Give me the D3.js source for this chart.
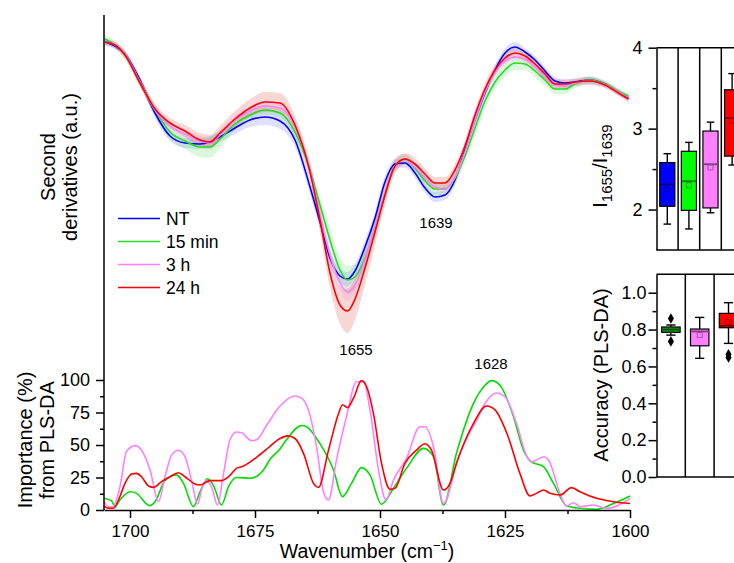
<!DOCTYPE html>
<html>
<head>
<meta charset="utf-8">
<script src="https://d3js.org/d3.v7.min.js"></script>
<style>
body { margin: 0; background: #fff; }
text { font-family: "Liberation Sans", Arial, sans-serif; fill: #000; }
</style>
</head>
<body>
<div id="chart"></div>
<script>
// second derivative spectra (a.u.), mean and sd on a common wavenumber grid
var specWn = [1705, 1703, 1701, 1698, 1695, 1692, 1689, 1686, 1684, 1682, 1679, 1676, 1673, 1670, 1667, 1664,
    1662, 1660, 1658, 1656.5, 1655, 1653, 1651, 1649, 1647, 1645, 1643, 1641, 1639, 1637, 1635, 1633,
    1631, 1629, 1627, 1625, 1623, 1621, 1619, 1617, 1615, 1613, 1611, 1608, 1605, 1602, 1600.3];
var specNT = [-0.02, -0.06, -0.14, -0.40, -0.73, -0.96, -1.03, -1.04, -1.02, -0.97, -0.88, -0.80, -0.77, -0.81, -1.00, -1.47,
    -1.82, -2.18, -2.36, -2.39, -2.31, -2.07, -1.78, -1.42, -1.24, -1.23, -1.33, -1.48, -1.57, -1.55, -1.40, -1.10,
    -0.80, -0.53, -0.30, -0.13, -0.07, -0.12, -0.20, -0.31, -0.41, -0.43, -0.42, -0.40, -0.44, -0.53, -0.58];
var spec15min = [0.01, -0.05, -0.15, -0.42, -0.70, -0.92, -1.01, -1.07, -1.07, -0.99, -0.84, -0.75, -0.70, -0.73, -0.92, -1.30,
    -1.65, -2.00, -2.30, -2.40, -2.37, -2.18, -1.88, -1.55, -1.26, -1.19, -1.28, -1.41, -1.49, -1.49, -1.38, -1.16,
    -0.88, -0.61, -0.42, -0.30, -0.23, -0.24, -0.31, -0.40, -0.49, -0.49, -0.44, -0.40, -0.44, -0.52, -0.56];
var spec3h = [-0.02, -0.05, -0.14, -0.42, -0.70, -0.86, -0.94, -1.01, -1.03, -0.95, -0.80, -0.71, -0.66, -0.68, -0.87, -1.30,
    -1.75, -2.15, -2.43, -2.52, -2.45, -2.20, -1.88, -1.53, -1.26, -1.19, -1.27, -1.38, -1.47, -1.49, -1.37, -1.12,
    -0.80, -0.52, -0.32, -0.21, -0.17, -0.19, -0.27, -0.37, -0.45, -0.46, -0.43, -0.41, -0.45, -0.53, -0.58];
var spec24h = [-0.02, -0.05, -0.15, -0.43, -0.69, -0.83, -0.91, -1.00, -1.02, -0.93, -0.79, -0.68, -0.62, -0.63, -0.85, -1.32,
    -1.80, -2.33, -2.65, -2.71, -2.59, -2.28, -1.92, -1.55, -1.26, -1.19, -1.24, -1.34, -1.43, -1.43, -1.30, -1.06,
    -0.75, -0.49, -0.30, -0.18, -0.13, -0.16, -0.24, -0.34, -0.44, -0.44, -0.42, -0.41, -0.45, -0.54, -0.59];
var sdNT = [0.03, 0.03, 0.03, 0.04, 0.05, 0.05, 0.05, 0.05, 0.05, 0.05, 0.06, 0.07, 0.08, 0.08, 0.07, 0.07,
    0.07, 0.07, 0.07, 0.07, 0.07, 0.07, 0.06, 0.06, 0.05, 0.05, 0.05, 0.05, 0.05, 0.05, 0.05, 0.05,
    0.05, 0.05, 0.05, 0.05, 0.05, 0.04, 0.04, 0.04, 0.04, 0.04, 0.03, 0.03, 0.03, 0.03, 0.03];
var sd15min = [0.04, 0.04, 0.04, 0.05, 0.06, 0.07, 0.08, 0.10, 0.11, 0.09, 0.06, 0.05, 0.05, 0.05, 0.05, 0.06,
    0.08, 0.11, 0.13, 0.14, 0.13, 0.11, 0.09, 0.07, 0.06, 0.05, 0.05, 0.05, 0.06, 0.06, 0.06, 0.07,
    0.07, 0.07, 0.07, 0.07, 0.07, 0.06, 0.06, 0.06, 0.05, 0.05, 0.04, 0.04, 0.03, 0.03, 0.03];
var sd3h = [0.03, 0.03, 0.03, 0.04, 0.04, 0.04, 0.05, 0.05, 0.05, 0.05, 0.05, 0.05, 0.05, 0.05, 0.05, 0.05,
    0.06, 0.07, 0.08, 0.09, 0.08, 0.07, 0.06, 0.05, 0.05, 0.04, 0.04, 0.04, 0.04, 0.04, 0.04, 0.04,
    0.04, 0.04, 0.04, 0.04, 0.04, 0.04, 0.04, 0.04, 0.03, 0.03, 0.03, 0.03, 0.03, 0.03, 0.03];
var sd24h = [0.03, 0.03, 0.04, 0.04, 0.05, 0.05, 0.06, 0.07, 0.07, 0.07, 0.08, 0.09, 0.10, 0.10, 0.09, 0.09,
    0.11, 0.15, 0.19, 0.22, 0.21, 0.17, 0.13, 0.10, 0.07, 0.06, 0.06, 0.06, 0.06, 0.06, 0.06, 0.06,
    0.06, 0.06, 0.05, 0.05, 0.05, 0.05, 0.05, 0.05, 0.05, 0.04, 0.04, 0.04, 0.03, 0.03, 0.03];

var groupNames = ["NT", "15 min", "3 h", "24 h"];
var lineColors = ["#0000ff", "#22dd22", "#ff80ff", "#ff0000"];
var bandColors = ["#6f6fff", "#55e055", "#ff9cff", "#e04a4a"];

// importance (%) from PLS-DA
var impGreenWn = [1705.2, 1703.7, 1703, 1702, 1700, 1698.7, 1696.1, 1695, 1693, 1690.7, 1689.3, 1687.3, 1686, 1684.5,
    1683.3, 1681.7, 1680.3, 1678.7, 1676, 1673.3, 1672, 1670, 1668.7, 1665.7, 1664.7, 1662, 1659.3, 1657.5,
    1655.7, 1653.7, 1652, 1649.7, 1647.3, 1644.7, 1641.3, 1639.3, 1637.3, 1634.7, 1631.3, 1629, 1627.7, 1626,
    1623.3, 1621.3, 1619.7, 1617.3, 1615.3, 1612.7, 1610, 1606.7, 1603.3, 1600];
var impGreen = [9, 7, 2.5, 7.7, 14, 12.8, 3.3, 6.4, 22.6, 27, 20.5, 2.6, 14, 24,
    19, 3.8, 18, 25, 24.4, 30.8, 39, 47, 54, 65, 64, 51, 30.8, 10.3,
    20.5, 32.6, 27, 4.4, 16.7, 32, 47.4, 41, 3.8, 43.6, 82, 96, 99.5, 96,
    71.8, 46, 37, 33.3, 20.5, 3.3, 1.3, 0.5, 5, 10.8];
var impPinkWn = [1705.2, 1704.3, 1703.5, 1702, 1700.7, 1699, 1697.7, 1696, 1694.3, 1693, 1691.7, 1690.3, 1689, 1687.7,
    1686.5, 1685.6, 1684.8, 1683.7, 1682.5, 1681.3, 1680, 1678.7, 1677.7, 1675.7, 1674.7, 1672.7, 1670, 1667,
    1665.7, 1664, 1662.7, 1661.3, 1660.3, 1658.7, 1656.7, 1654.7, 1653.3, 1652, 1650.3, 1648.8, 1647.3, 1644.7,
    1642, 1641, 1639.3, 1637.3, 1634.3, 1632.7, 1630.7, 1629, 1626.7, 1625, 1622.7, 1620.7, 1619.7, 1617.3,
    1616.3, 1614, 1612.7, 1611.3, 1610, 1607.3, 1604.7, 1600];
var impPink = [6.4, 2.5, 2.5, 18, 45, 49.5, 46, 31, 6.4, 25.6, 42, 46, 41, 23,
    4.6, 16.7, 22.6, 18, 3.8, 28, 54, 60, 59.5, 53.3, 54, 65, 80, 87.7,
    86, 73, 48.7, 14, 7.7, 38.5, 71.8, 98.7, 98.7, 77, 30.8, 7.7, 23, 39.7,
    64, 64, 48.7, 5, 41, 55, 69, 82, 90, 87, 66.7, 42, 37, 41,
    38.5, 12.8, 3, 5.6, 2.6, 3.8, 1.3, 9];
var impRedWn = [1705.2, 1704.3, 1703.3, 1702.3, 1701, 1699.7, 1698.7, 1697.7, 1696.3, 1695.3, 1693.7, 1692, 1690.3, 1689,
    1687, 1686, 1684, 1681.7, 1680.3, 1678.7, 1677.3, 1674.7, 1672, 1670, 1668.5, 1667, 1665.3, 1663.3,
    1662.3, 1660.3, 1658.3, 1657.5, 1656.5, 1655.3, 1653.7, 1652.7, 1651.3, 1649.7, 1648, 1647, 1645, 1642.7,
    1641, 1639.7, 1637.3, 1636, 1634.7, 1631.3, 1628.7, 1627, 1624.5, 1622, 1620, 1618.7, 1617.3, 1616,
    1614, 1611.7, 1610, 1606.7, 1603.3, 1600];
var impRed = [3, 1.3, 1.3, 7.7, 20.5, 27.7, 28.2, 25.6, 18.5, 17.4, 21.8, 25.6, 28.7, 25.6,
    20, 19.2, 22.6, 22.6, 25.6, 32, 33.8, 40.5, 49, 55, 57, 55, 43.6, 20.5,
    17.4, 46, 74, 81, 78.7, 86, 99.5, 95, 74, 36, 16, 16.7, 36, 46,
    51, 46, 15.4, 20.5, 36, 66.7, 80, 77, 57.7, 28, 10.8, 12.8, 15.4, 12.8,
    11.5, 17.2, 14, 9, 6.4, 5];

// I1655/I1639 box statistics
var ratioGroups = ["NT", "15 min", "3 h", "24 h"];
var ratioColors = ["#0000ff", "#00ff00", "#ff80ff", "#ff0000"];
var ratioLow = [1.82, 1.76, 1.96, 2.55];
var ratioQ1 = [2.04, 1.99, 2.02, 2.66];
var ratioMedian = [2.31, 2.35, 2.56, 3.13];
var ratioMean = [2.25, 2.30, 2.52, 3.10];
var ratioQ3 = [2.58, 2.72, 2.97, 3.48];
var ratioHigh = [2.69, 2.83, 3.08, 3.68];

// PLS-DA accuracy box statistics
var accGroups = ["15 min", "3 h", "24 h"];
var accColors = ["#1f9f1f", "#ff80ff", "#ff0000"];
var accLow = [0.77, 0.644, 0.725];
var accQ1 = [0.785, 0.712, 0.81];
var accMedian = [0.80, 0.79, 0.82];
var accMean = [0.80, 0.77, 0.84];
var accQ3 = [0.814, 0.803, 0.888];
var accHigh = [0.825, 0.866, 0.946];
var accOutliers = [[0.86, 0.736], [], [0.666, 0.648]];

var width = 734;
var height = 563;

var svg = d3.select("#chart")
    .append("svg")
    .attr("width", width)
    .attr("height", height);

var x = d3.scaleLinear().domain([1705.2, 1600]).range([104, 630]);
var ySpec = d3.scaleLinear().domain([-2.7, 0]).range([310, 40]);
var yImp = d3.scaleLinear().domain([0, 100]).range([510, 380]);

// bands then lines
var specSeries = [specNT, spec15min, spec3h, spec24h];
var sdSeries = [sdNT, sd15min, sd3h, sd24h];

var area = d3.area()
    .x(function(d) { return x(d.wn); })
    .y0(function(d) { return ySpec(d.v - d.sd); })
    .y1(function(d) { return ySpec(d.v + d.sd); })
    .curve(d3.curveMonotoneX);
var line = d3.line()
    .x(function(d) { return x(d.wn); })
    .y(function(d) { return ySpec(d.v); })
    .curve(d3.curveMonotoneX);

var specData = specSeries.map(function(s, k) {
    return specWn.map(function(w, i) { return {wn: w, v: s[i], sd: sdSeries[k][i]}; });
});

svg.append("g").selectAll("path")
    .data(specData)
    .enter().append("path")
    .attr("d", area)
    .attr("fill", function(d, i) { return bandColors[i]; })
    .attr("fill-opacity", 0.22)
    .attr("stroke", "none");

svg.append("g").selectAll("path")
    .data(specData)
    .enter().append("path")
    .attr("d", line)
    .attr("fill", "none")
    .attr("stroke", function(d, i) { return lineColors[i]; })
    .attr("stroke-width", 1.6);

// legend
var legend = svg.append("g").selectAll("g")
    .data(groupNames)
    .enter().append("g")
    .attr("transform", function(d, i) { return "translate(118," + (218.5 + i * 23) + ")"; });
legend.append("line")
    .attr("x1", 0).attr("x2", 42)
    .attr("stroke", function(d, i) { return lineColors[i]; })
    .attr("stroke-width", 1.6);
legend.append("text")
    .attr("x", 48)
    .attr("dy", "0.35em")
    .style("font-size", "17.5px")
    .text(function(d) { return d; });

// importance curves
var impLine = d3.line()
    .x(function(d) { return x(d[0]); })
    .y(function(d) { return yImp(d[1]); })
    .curve(d3.curveMonotoneX);
var impData = [
    {c: "#00dd00", pts: d3.zip(impGreenWn, impGreen)},
    {c: "#ff80ff", pts: d3.zip(impPinkWn, impPink)},
    {c: "#ff0000", pts: d3.zip(impRedWn, impRed)}
];
svg.append("g").selectAll("path")
    .data(impData)
    .enter().append("path")
    .attr("d", function(d) { return impLine(d.pts); })
    .attr("fill", "none")
    .attr("stroke", function(d) { return d.c; })
    .attr("stroke-width", 1.6);

// axes of the left column
svg.append("line")
    .attr("x1", 104).attr("x2", 104)
    .attr("y1", 15).attr("y2", 510)
    .attr("stroke", "#000").attr("stroke-width", 1.5);

svg.append("g")
    .attr("class", "xaxis")
    .attr("transform", "translate(0,510)")
    .call(d3.axisBottom(x).tickValues([1700, 1675, 1650, 1625, 1600]).tickSize(8).tickSizeOuter(0).tickPadding(7)
        .tickFormat(d3.format("d")));
svg.append("g")
    .attr("transform", "translate(0,510)")
    .call(d3.axisBottom(x).tickValues([1687.5, 1662.5, 1637.5, 1612.5]).tickSize(4).tickFormat(""))
    .select(".domain").remove();

var yAxis = svg.append("g")
    .attr("transform", "translate(104,0)")
    .call(d3.axisLeft(yImp).tickValues([0, 25, 50, 75, 100]).tickSize(8).tickPadding(6));
yAxis.select(".domain").remove();
svg.append("g")
    .attr("transform", "translate(104,0)")
    .call(d3.axisLeft(yImp).tickValues([12.5, 37.5, 62.5, 87.5]).tickSize(4).tickFormat(""))
    .select(".domain").remove();

// peak labels
var peaks = [[1655, 355, "1655"], [1639, 228, "1639"], [1628, 369, "1628"]];
svg.append("g").selectAll("text")
    .data(peaks)
    .enter().append("text")
    .attr("x", function(d) { return x(d[0]) + 1; })
    .attr("y", function(d) { return d[1]; })
    .attr("text-anchor", "middle")
    .style("font-size", "15px")
    .text(function(d) { return d[2]; });

// axis titles
function vtitle(tx, ty, lines, size) {
    var t = svg.append("text")
        .attr("transform", "translate(" + tx + "," + ty + ") rotate(-90)")
        .attr("text-anchor", "middle")
        .style("font-size", size + "px");
    lines.forEach(function(s, i) {
        t.append("tspan").attr("x", 0).attr("y", i * 22).text(s);
    });
    return t;
}
vtitle(55, 167, ["Second", "derivatives (a.u.)"], 20);
vtitle(32, 440, ["Importance (%)", "from PLS-DA"], 20);

var xt = svg.append("text")
    .attr("x", 367).attr("y", 558)
    .attr("text-anchor", "middle")
    .style("font-size", "19.5px");
xt.append("tspan").text("Wavenumber (cm");
xt.append("tspan").attr("dy", -8).style("font-size", "13px").text("\u22121");
xt.append("tspan").attr("dy", 8).text(")");

// box plots on the right
function drawBoxes(g, xb, yb, st, colors, frac) {
    var bw = xb.bandwidth() * frac;
    var items = g.selectAll("g.box")
        .data(st)
        .enter().append("g")
        .attr("class", "box")
        .attr("transform", function(d) { return "translate(" + (xb(d.name) + xb.bandwidth() / 2) + ",0)"; });
    items.append("line")
        .attr("y1", function(d) { return yb(d.low); })
        .attr("y2", function(d) { return yb(d.high); })
        .attr("stroke", "#000").attr("stroke-width", 1.4);
    items.selectAll("line.cap")
        .data(function(d) { return [d.low, d.high]; })
        .enter().append("line")
        .attr("class", "cap")
        .attr("x1", -bw / 4).attr("x2", bw / 4)
        .attr("y1", function(v) { return yb(v); })
        .attr("y2", function(v) { return yb(v); })
        .attr("stroke", "#000").attr("stroke-width", 1.4);
    items.append("rect")
        .attr("x", -bw / 2).attr("width", bw)
        .attr("y", function(d) { return yb(d.q3); })
        .attr("height", function(d) { return yb(d.q1) - yb(d.q3); })
        .attr("fill", function(d, i) { return colors[i]; })
        .attr("stroke", "#000").attr("stroke-width", 1.2);
    items.append("line")
        .attr("x1", -bw / 2).attr("x2", bw / 2)
        .attr("y1", function(d) { return yb(d.median); })
        .attr("y2", function(d) { return yb(d.median); })
        .attr("stroke", function(d, i) { return d3.color(colors[i]).darker(2); })
        .attr("stroke-width", 1.8);
    items.append("rect")
        .attr("x", -2.5).attr("width", 5)
        .attr("y", function(d) { return yb(d.mean) - 2.5; })
        .attr("height", 5)
        .attr("fill", "none")
        .attr("stroke", function(d, i) { return d3.color(colors[i]).darker(1.5); })
        .attr("stroke-width", 0.8);
    items.selectAll("path.out")
        .data(function(d) { return d.out; })
        .enter().append("path")
        .attr("class", "out")
        .attr("d", d3.symbol().type(d3.symbolDiamond).size(32))
        .attr("transform", function(v) { return "translate(0," + yb(v) + ")"; })
        .attr("fill", "#000");
}

function frame(g, xb, yb, groups) {
    var y0 = yb.range()[0], y1 = yb.range()[1];
    g.append("line").attr("x1", xb.range()[0]).attr("x2", width + 10)
        .attr("y1", y1).attr("y2", y1).attr("stroke", "#000").attr("stroke-width", 1.5);
    g.append("line").attr("x1", xb.range()[0]).attr("x2", width + 10)
        .attr("y1", y0).attr("y2", y0).attr("stroke", "#000").attr("stroke-width", 1.5);
    g.selectAll("line.sep")
        .data(groups.slice(1))
        .enter().append("line")
        .attr("class", "sep")
        .attr("x1", function(d) { return xb(d); })
        .attr("x2", function(d) { return xb(d); })
        .attr("y1", y0).attr("y2", y1)
        .attr("stroke", "#000").attr("stroke-width", 1.5);
}

var axX = 656.5;

var yRatio = d3.scaleLinear().domain([1.5, 4]).range([250, 47.7]);
var xRatio = d3.scaleBand().domain(ratioGroups).range([axX, axX + 4 * 21.6]);
var gr = svg.append("g");
frame(gr, xRatio, yRatio, ratioGroups);
drawBoxes(gr, xRatio, yRatio, ratioGroups.map(function(n, i) {
    return {name: n, low: ratioLow[i], q1: ratioQ1[i], median: ratioMedian[i], mean: ratioMean[i],
        q3: ratioQ3[i], high: ratioHigh[i], out: []};
}), ratioColors, 0.7);
gr.append("g")
    .attr("transform", "translate(" + axX + ",0)")
    .call(d3.axisLeft(yRatio).tickValues([2, 3, 4]).tickSize(8).tickSizeOuter(0).tickPadding(6)
        .tickFormat(d3.format("d")));
gr.append("g")
    .attr("transform", "translate(" + axX + ",0)")
    .call(d3.axisLeft(yRatio).tickValues([2.5, 3.5]).tickSize(4).tickFormat(""))
    .select(".domain").remove();

var rt = svg.append("text")
    .attr("transform", "translate(607,166) rotate(-90)")
    .attr("text-anchor", "middle")
    .style("font-size", "20px");
rt.append("tspan").text("I");
rt.append("tspan").attr("dy", 5).style("font-size", "15px").text("1655");
rt.append("tspan").attr("dy", -5).text("/I");
rt.append("tspan").attr("dy", 5).style("font-size", "15px").text("1639");

var yAcc = d3.scaleLinear().domain([0, 1.1]).range([477, 274.3]);
var xAcc = d3.scaleBand().domain(accGroups).range([axX, axX + 3 * 28.8]);
var ga = svg.append("g");
frame(ga, xAcc, yAcc, accGroups);
drawBoxes(ga, xAcc, yAcc, accGroups.map(function(n, i) {
    return {name: n, low: accLow[i], q1: accQ1[i], median: accMedian[i], mean: accMean[i],
        q3: accQ3[i], high: accHigh[i], out: accOutliers[i]};
}), accColors, 0.64);
ga.append("g")
    .attr("transform", "translate(" + axX + ",0)")
    .call(d3.axisLeft(yAcc).tickValues([0, 0.2, 0.4, 0.6, 0.8, 1.0]).tickSize(8).tickSizeOuter(0).tickPadding(2)
        .tickFormat(d3.format(".1f")));
ga.append("g")
    .attr("transform", "translate(" + axX + ",0)")
    .call(d3.axisLeft(yAcc).tickValues([0.1, 0.3, 0.5, 0.7, 0.9]).tickSize(4).tickFormat(""))
    .select(".domain").remove();

svg.append("text")
    .attr("transform", "translate(608,375) rotate(-90)")
    .attr("text-anchor", "middle")
    .style("font-size", "20px")
    .text("Accuracy (PLS-DA)");

svg.selectAll(".tick text").style("font-size", "18px").attr("fill", "#000");
svg.selectAll(".xaxis .tick text").style("font-size", "17px");
svg.selectAll(".tick line").attr("stroke-width", 1.5);
svg.selectAll(".domain").attr("stroke-width", 1.5);
</script>
</body>
</html>
